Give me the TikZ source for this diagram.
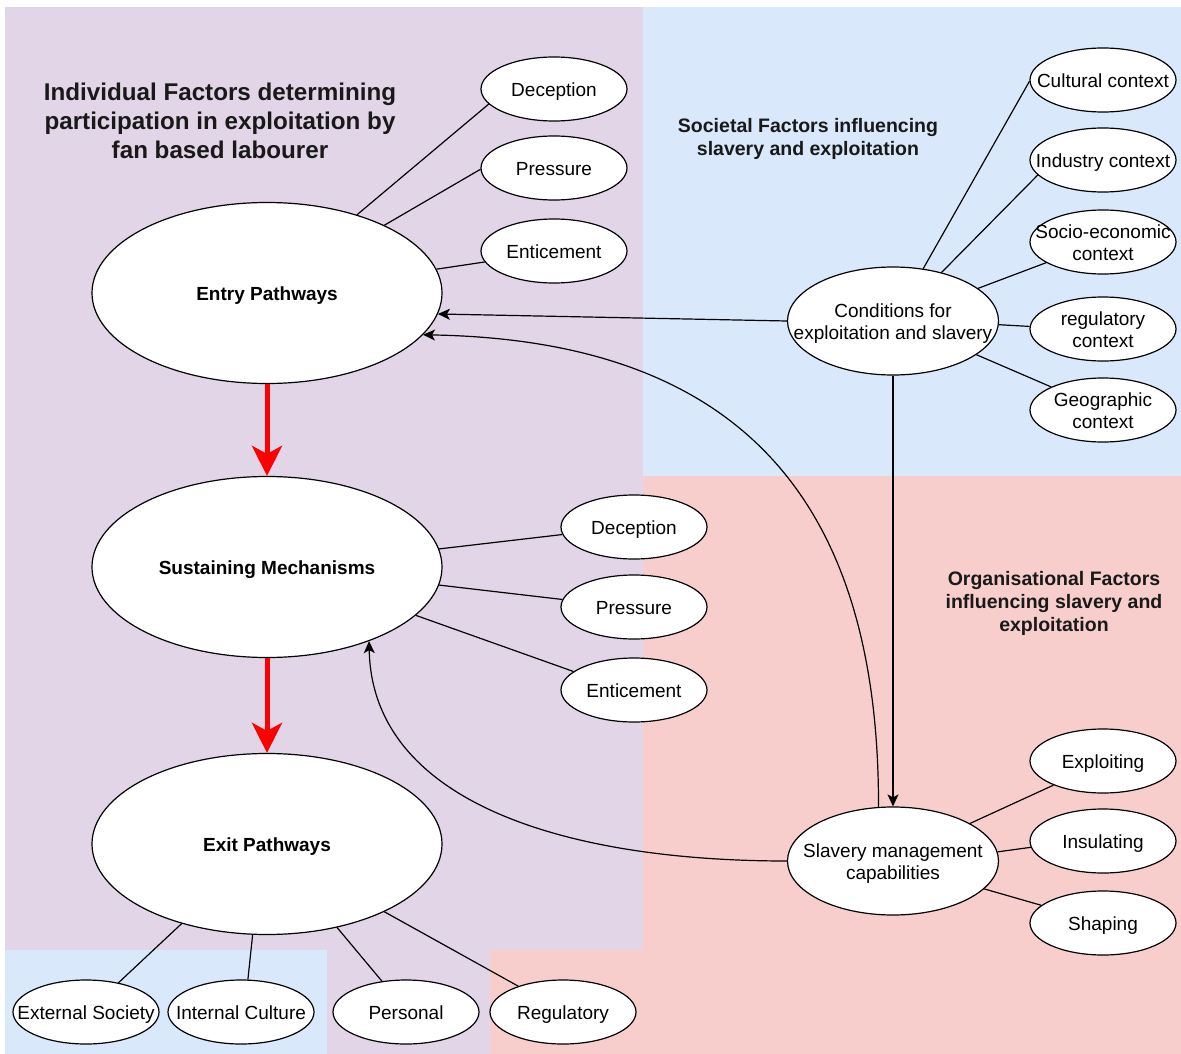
\documentclass[tikz,border=0pt]{standalone}
\usepackage{fontspec}
\setmainfont{Liberation Sans}
\usetikzlibrary{arrows.meta,shapes.geometric}
\definecolor{purp}{HTML}{E1D5E7}
\definecolor{blu}{HTML}{DAE8FC}
\definecolor{pnk}{HTML}{F8CECC}
\newcommand\zt[1]{\makebox[0pt][c]{\raisebox{-7.3pt}[0pt][0pt]{#1}}}
\newcommand\zl[2]{\makebox[0pt][c]{\raisebox{-7.4pt}[0pt][0pt]{\begin{tabular}{@{}c@{}}#1\\#2\end{tabular}}}}
\begin{document}
\begin{tikzpicture}[x=1pt,y=-1pt,
  el/.style={ellipse, draw=black, fill=white, line width=1.2pt, inner sep=0pt, font=\fontsize{19}{22}\selectfont},
  small/.style={el, minimum width=146pt, minimum height=64pt},
  mid/.style={el, minimum width=211pt, minimum height=108pt},
  big/.style={el, minimum width=350pt, minimum height=181pt, font=\fontsize{19}{22}\selectfont\bfseries},
  link/.style={line width=1.2pt},
  arr/.style={line width=1.2pt, -{Stealth[length=12pt,width=11pt,inset=3pt]}},
  redarr/.style={draw=red, line width=5pt, -{Stealth[length=30pt,width=30pt,inset=8pt]}},
  ttl/.style={align=center, inner sep=0pt, text=black!90}
]
\useasboundingbox (0,0) rectangle (1181,1054);
\fill[white] (0,0) rectangle (1181,1054);
% background regions
\fill[purp] (5,7) rectangle (643,950);
\fill[blu] (643,7) rectangle (1181,476);
\fill[pnk] (643,476) rectangle (1181,1054);
\fill[pnk] (490,950) rectangle (643,1054);
\fill[blu] (5,950) rectangle (327,1054);
\fill[purp] (327,950) rectangle (490,1054);

% titles
\node[ttl, font=\fontsize{24.2}{29}\selectfont\bfseries] (t1) at (220,121)
  {Individual Factors determining\\participation in exploitation by\\fan based labourer};
\node[ttl, font=\fontsize{19.5}{23}\selectfont\bfseries] (t2) at (808,139)
  {Societal Factors influencing\\slavery and exploitation};
\node[ttl, font=\fontsize{19.5}{23}\selectfont\bfseries] (t3) at (1054,603)
  {Organisational Factors\\influencing slavery and\\exploitation};

% main ellipses
\node[big] (entry) at (267,293) {\zt{Entry Pathways}};
\node[big] (sust) at (267,567) {\zt{Sustaining Mechanisms}};
\node[big] (exit) at (267,844) {\zt{Exit Pathways}};

% entry children
\node[small] (dec1) at (554,89) {\zt{Deception}};
\node[small] (pres1) at (554,168) {\zt{Pressure}};
\node[small] (ent1) at (554,251) {\zt{Enticement}};
% sustaining children
\node[small] (dec2) at (634,527) {\zt{Deception}};
\node[small] (pres2) at (634,607) {\zt{Pressure}};
\node[small] (ent2) at (634,690) {\zt{Enticement}};
% exit children
\node[small] (ext) at (86,1012) {\zt{External Society}};
\node[small] (int) at (241,1012) {\zt{Internal Culture}};
\node[small] (pers) at (406,1012) {\zt{Personal}};
\node[small] (reg) at (563,1012) {\zt{Regulatory}};

% societal
\node[mid] (cond) at (893,321) {\zl{Conditions for}{exploitation and slavery}};
\node[small] (cult) at (1103,80) {\zt{Cultural context}};
\node[small] (ind) at (1103,160) {\zt{Industry context}};
\node[small] (soc) at (1103,242) {\zl{Socio-economic}{context}};
\node[small] (regc) at (1103,329) {\zl{regulatory}{context}};
\node[small] (geo) at (1103,410) {\zl{Geographic}{context}};

% organisational
\node[mid] (slav) at (893,861) {\zl{Slavery management}{capabilities}};
\node[small] (expl) at (1103,761) {\zt{Exploiting}};
\node[small] (ins) at (1103,841) {\zt{Insulating}};
\node[small] (shp) at (1103,923) {\zt{Shaping}};

% links
\draw[link] (entry.41) -- (dec1.193);
\draw[link] (entry.30) -- (pres1.181);
\draw[link] (entry.8) -- (ent1.189);
\draw[link] (sust.6) -- (dec2.186);
\draw[link] (sust.-6) -- (pres2.174);
\draw[link] (sust.-18.5) -- (ent2.163);
\draw[link] (exit.223) -- (ext.42);
\draw[link] (exit.261) -- (int.78);
\draw[link] (exit.310) -- (pers.128);
\draw[link] (exit.330) -- (reg.150);
\draw[link] (cond.60) -- (cult.181);
\draw[link] (cond.45) -- (ind.193);
\draw[link] (cond.21) -- (soc.200);
\draw[link] (cond.-2) -- (regc.178);
\draw[link] (cond.-22) -- (geo.156);
\draw[link] (slav.26) -- (expl.206);
\draw[link] (slav.5) -- (ins.185);
\draw[link] (slav.-17) -- (shp.164);

% arrows
\draw[redarr] (entry.south) -- (sust.north);
\draw[redarr] (sust.south) -- (exit.north);
\draw[arr] (cond.west) -- (entry.-7);
\draw[arr] (cond.south) -- (slav.north);
\draw[arr] (slav.105) .. controls (879,500) and (740,340) .. (entry.-15);
\draw[arr] (slav.west) .. controls (560,861) and (372,800) .. (sust.-36);
\end{tikzpicture}
\end{document}
